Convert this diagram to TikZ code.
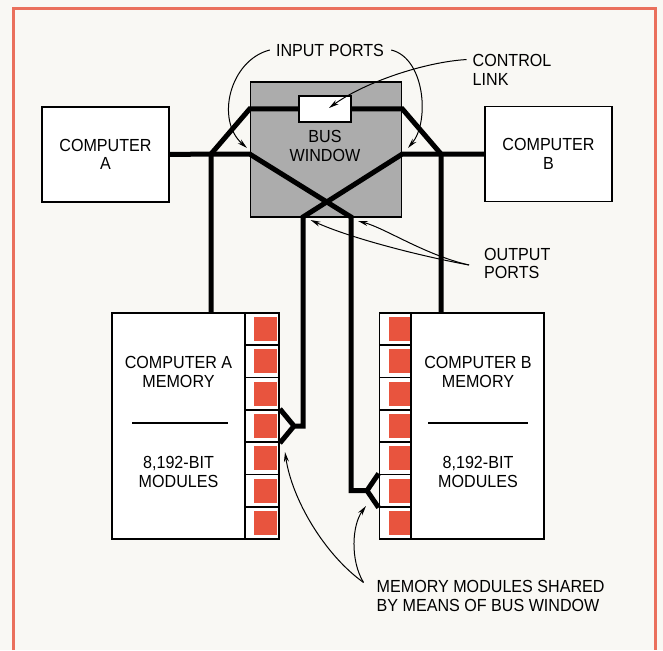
\documentclass[tikz,border=0pt]{standalone}
\usepackage{fontspec}
\setmainfont{Liberation Sans}[FakeStretch=0.92]
\usetikzlibrary{arrows.meta}

\definecolor{modred}{RGB}{232,84,62}
\definecolor{framered}{RGB}{234,112,92}
\definecolor{paper}{RGB}{249,248,244}
\definecolor{wingray}{RGB}{172,172,172}

\tikzset{
  box/.style={draw,line width=1.8pt,fill=white,align=center,inner sep=0pt},
  cell/.style={draw,line width=1.8pt,fill=white,inner sep=0pt},
  modsq/.style={fill=modred,inner sep=0pt,minimum width=23pt,minimum height=24pt},
  lbl/.style={inner sep=0pt,align=center},
  bus/.style={line width=5pt,line join=miter},
  pointer/.style={line width=1pt,-{Stealth[length=10pt,width=5pt]}}
}

\begin{document}
\begin{tikzpicture}[x=1pt,y=-1pt,every node/.style={font=\fontsize{17.5}{18.3}\selectfont}]
	% Paper and frame
	\useasboundingbox (0,0) rectangle (663,650);
	\fill[paper] (0,0) rectangle (663,650);
	\draw[framered,line width=3pt] (13,650) -- (13,9) -- (655.5,9) -- (655.5,650);

	% Draw the computers and the bus window
	\node[box,minimum width=127pt,minimum height=95pt] (compa) at (105.5,154.5) {COMPUTER\\A};
	\node[box,minimum width=127pt,minimum height=95pt] (compb) at (548.5,154) {COMPUTER\\B};
	\node[box,fill=wingray,minimum width=151pt,minimum height=135pt] (bus) at (326,149.5) {};
	\node[lbl] (buslbl) at (325,146) {BUS\\WINDOW};
	\node[box,minimum width=52pt,minimum height=26pt] (ctrl) at (325.3,109) {};

	% Draw the memories
	\node[box,minimum width=167pt,minimum height=226pt] (mema) at (195.5,426) {};
	\node[box,minimum width=164.5pt,minimum height=226pt] (memb) at (461.75,426) {};
	\foreach \i in {1,...,7} {
		\node[cell,minimum width=34pt,minimum height=32.29pt] (ma\i) at (262,{313+32.29*(\i-0.5)}) {};
		\node[modsq] (ra\i) at (265.5,{313+32.29*(\i-0.5)}) {};
		\node[cell,minimum width=31.5pt,minimum height=32.29pt] (mb\i) at (395.25,{313+32.29*(\i-0.5)}) {};
		\node[modsq,minimum width=21pt] (rb\i) at (399.5,{313+32.29*(\i-0.5)}) {};
	}
	\node[lbl] (matop) at (178.5,372) {COMPUTER A\\MEMORY};
	\node[lbl] (mabot) at (178.5,472) {8,192-BIT\\MODULES};
	\node[lbl] (mbtop) at (478,372) {COMPUTER B\\MEMORY};
	\node[lbl] (mbbot) at (478,472) {8,192-BIT\\MODULES};
	\draw[line width=1.5pt] (132,423) -- (228,423);
	\draw[line width=1.5pt] (428,423) -- (528,423);

	% Junctions and ports
	\coordinate (ja) at (211,154);
	\coordinate (jb) at (441,154);
	\coordinate (pa) at (303,217);
	\coordinate (pb) at (351,217);
	\coordinate (fa) at (294,426);
	\coordinate (fb) at (367,490.6);

	% Draw the bus lines
	\draw[bus] (compa.east) -- (ja) -- (bus.west |- ja) -- (pb) -- (pb |- fb) -- (fb) -- (mb6.north west);
	\draw[bus] (fb) -- (mb6.south west);
	\draw[bus] (compb.west) -- (jb) -- (bus.east |- jb) -- (pa) -- (pa |- fa) -- (fa) -- (ma4.north east);
	\draw[bus] (fa) -- (ma4.south east);
	\draw[bus] (ja |- mema.north) -- (ja) -- (bus.west |- ctrl) -- (ctrl.west);
	\draw[bus] (jb |- memb.north) -- (jb) -- (bus.east |- ctrl) -- (ctrl.east);

	% Add labels
	\node[lbl] (inlbl) at (330,50) {INPUT PORTS};
	\node[lbl,anchor=west,align=left] (ctrllbl) at (472.5,70) {CONTROL\\LINK};
	\node[lbl,anchor=west,align=left] (outlbl) at (484,263.5) {OUTPUT\\PORTS};
	\node[lbl,anchor=west,align=left] (memlbl) at (376.5,596) {MEMORY MODULES SHARED\\BY MEANS OF BUS WINDOW};

	% Draw the pointers
	\coordinate (tipia) at (247,148);
	\coordinate (tipib) at (408,148);
	\coordinate (tipc) at (329,108);
	\coordinate (tipoa) at (310.6,220);
	\coordinate (tipob) at (358,221);
	\coordinate (tipma) at (285,452);
	\coordinate (tipmb) at (366,506);
	\draw[pointer] ([xshift=-6pt]inlbl.west) .. controls (230,60) and (215,120) .. (tipia);
	\draw[pointer] ([xshift=7pt]inlbl.east) .. controls (425,58) and (430,122) .. (tipib);
	\draw[pointer] ([xshift=-6pt,yshift=-5pt]ctrllbl.north west) .. controls (425,62) and (365,82) .. (tipc);
	\draw[pointer] ([xshift=-15pt,yshift=-1.5pt]outlbl.west) .. controls (420,256) and (350,238) .. (tipoa);
	\draw[pointer] ([xshift=-15pt,yshift=-1.5pt]outlbl.west) .. controls (425,255) and (385,228) .. (tipob);
	\draw[pointer] ([xshift=-13pt,yshift=-2pt]memlbl.north west) .. controls (325,555) and (292,500) .. (tipma);
	\draw[pointer] ([xshift=-13pt,yshift=-2pt]memlbl.north west) .. controls (350,560) and (352,525) .. (tipmb);
\end{tikzpicture}
\end{document}
